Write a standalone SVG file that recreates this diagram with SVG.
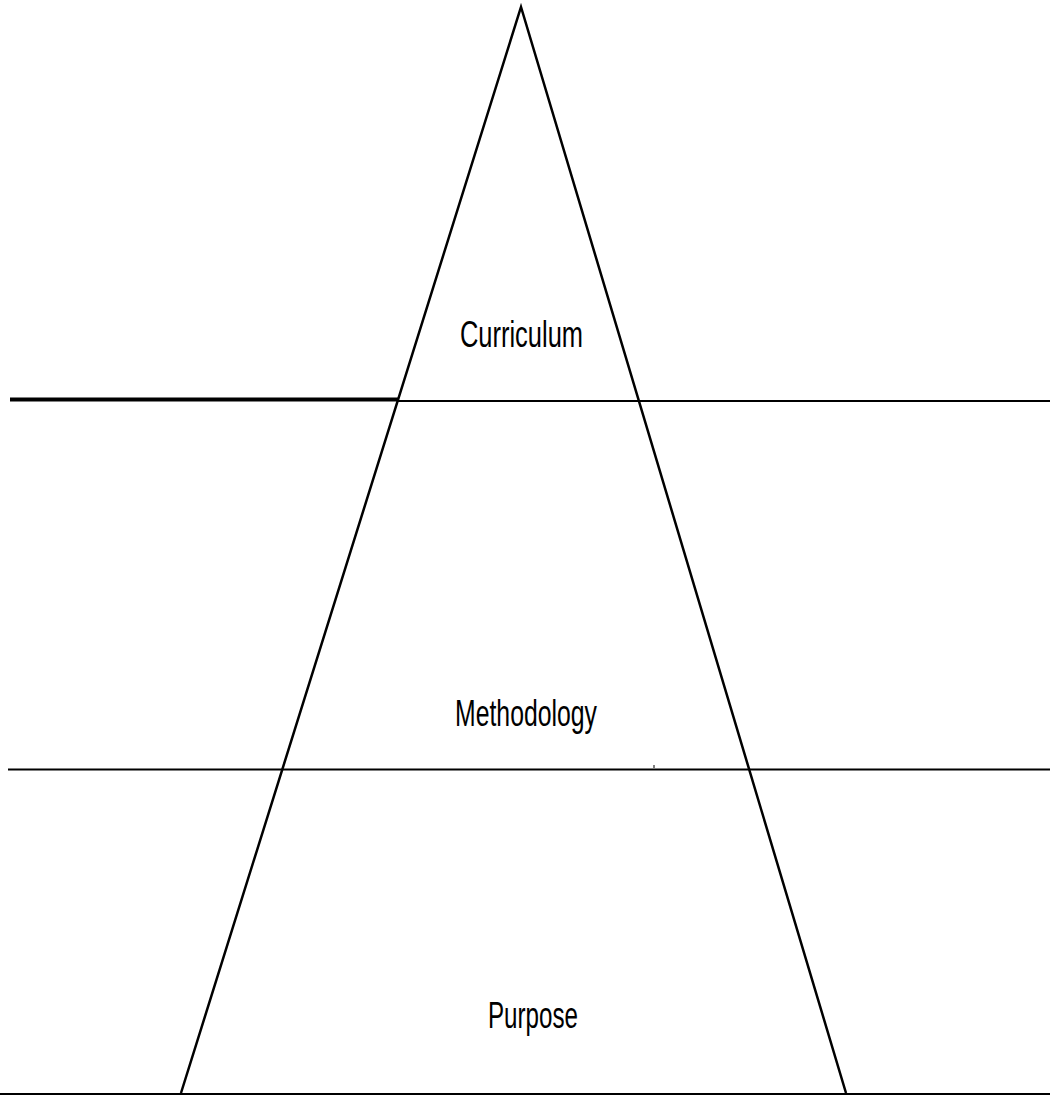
<svg xmlns="http://www.w3.org/2000/svg" width="1050" height="1097" viewBox="0 0 1050 1097">
<style>
.ln{stroke:#000;stroke-width:2;fill:none}
.thick{stroke-width:4}
.tick{stroke-width:1}
.side{stroke:#000;stroke-width:2.5;fill:none}
.lbl{font-family:"Liberation Sans",Arial,sans-serif;font-size:36px;fill:#000}
</style>
<rect width="1050" height="1097" fill="#fff"/>
<g id="levels">
<line class="ln thick" x1="10" y1="399.5" x2="398" y2="399.5"/>
<line class="ln" x1="398" y1="401" x2="1050" y2="401"/>
<line class="ln" x1="8" y1="769.5" x2="1050" y2="769.5"/>
<line class="ln" x1="0" y1="1094" x2="1050" y2="1094"/>
<line class="ln tick" x1="654" y1="765" x2="654" y2="768"/>
</g>
<g id="triangle">
<polyline class="side" points="181,1093 521,7 846,1093"/>
</g>
<g id="curriculum"><text class="lbl" x="460" y="347" textLength="123" lengthAdjust="spacingAndGlyphs">Curriculum</text></g>
<g id="methodology"><text class="lbl" x="455" y="726" textLength="142" lengthAdjust="spacingAndGlyphs">Methodology</text></g>
<g id="purpose"><text class="lbl" x="488" y="1028" textLength="90" lengthAdjust="spacingAndGlyphs">Purpose</text></g>
</svg>
